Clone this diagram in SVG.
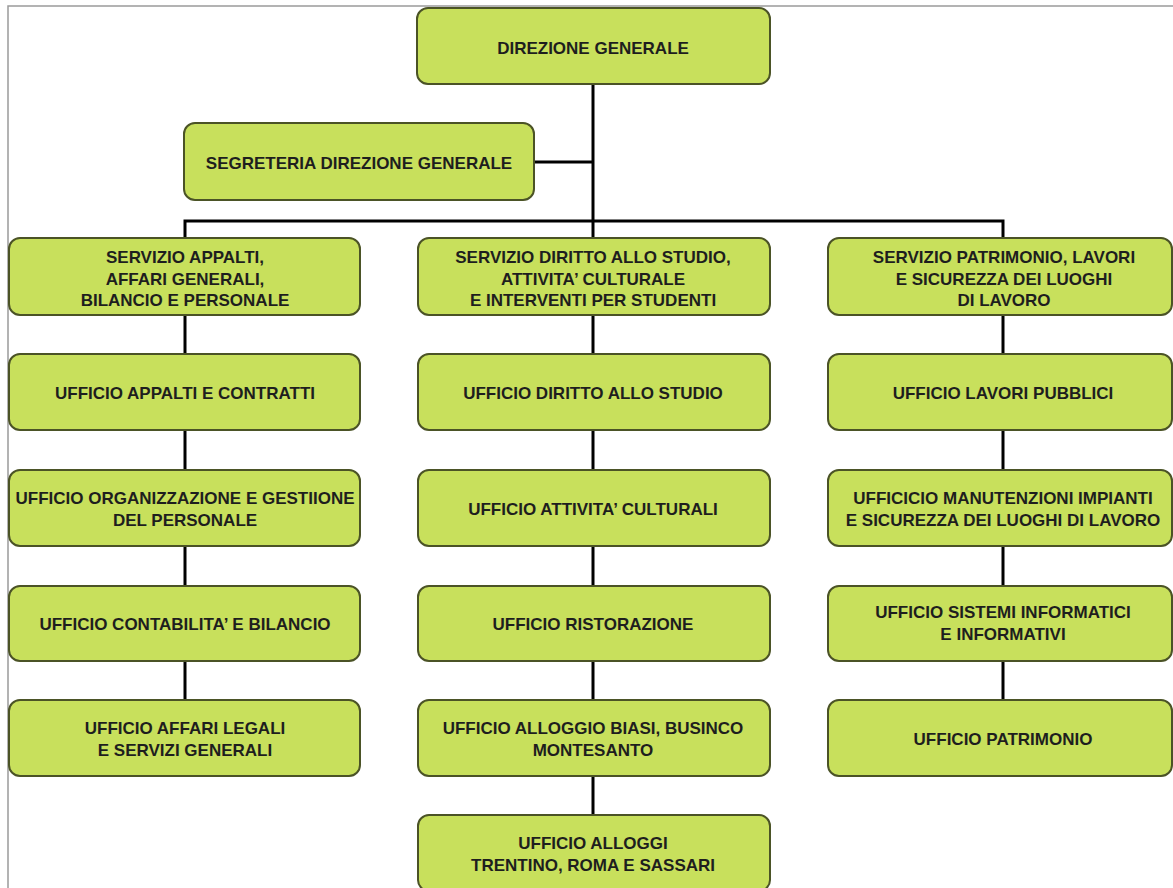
<svg xmlns="http://www.w3.org/2000/svg" width="1173" height="888" viewBox="0 0 1173 888">
<style>
.box{fill:#c8e05c;stroke:#4b5326;stroke-width:2}
.t{font-family:"Liberation Sans",Arial,sans-serif;font-weight:bold;font-size:17px;fill:#1e1e1e;text-anchor:middle}
.c{stroke:#000;stroke-width:3;fill:none}
</style>
<rect x="0" y="0" width="1173" height="888" fill="#fff"/>
<rect x="8" y="6" width="1180" height="900" fill="none" stroke="#9a9a9a" stroke-width="1.5"/>
<g id="connectors">
<path class="c" d="M593 84V238"/>
<path class="c" d="M534 162H593"/>
<path class="c" d="M185 238V221H1003V238"/>
<path class="c" d="M185 315V354M185 430V470M185 546V586M185 661V700"/>
<path class="c" d="M593 315V354M593 430V470M593 546V586M593 661V700M593 776V815"/>
<path class="c" d="M1003 315V354M1003 430V470M1003 546V586M1003 661V700"/>
</g>
<g id="n_direzione"><rect class="box" x="417" y="8" width="353" height="76" rx="11"/><text class="t" x="593" y="54">DIREZIONE GENERALE</text></g>
<g id="n_segreteria"><rect class="box" x="184" y="123" width="350" height="77" rx="11"/><text class="t" x="359" y="169">SEGRETERIA DIREZIONE GENERALE</text></g>

<g id="n_serv_appalti"><rect class="box" x="9" y="238" width="351" height="77" rx="11"/><text class="t" x="185" y="263">SERVIZIO APPALTI,</text><text class="t" x="185" y="284.5">AFFARI GENERALI,</text><text class="t" x="185" y="306">BILANCIO E PERSONALE</text></g>
<g id="n_uff_appalti"><rect class="box" x="9" y="354" width="351" height="76" rx="11"/><text class="t" x="185" y="399">UFFICIO APPALTI E CONTRATTI</text></g>
<g id="n_uff_organizzazione"><rect class="box" x="9" y="470" width="351" height="76" rx="11"/><text class="t" x="185" y="504">UFFICIO ORGANIZZAZIONE E GESTIIONE</text><text class="t" x="185" y="526">DEL PERSONALE</text></g>
<g id="n_uff_contabilita"><rect class="box" x="9" y="586" width="351" height="75" rx="11"/><text class="t" x="185" y="630">UFFICIO CONTABILITA’ E BILANCIO</text></g>
<g id="n_uff_affari"><rect class="box" x="9" y="700" width="351" height="76" rx="11"/><text class="t" x="185" y="734">UFFICIO AFFARI LEGALI</text><text class="t" x="185" y="756">E SERVIZI GENERALI</text></g>

<g id="n_serv_diritto"><rect class="box" x="418" y="238" width="352" height="77" rx="11"/><text class="t" x="593" y="263">SERVIZIO DIRITTO ALLO STUDIO,</text><text class="t" x="593" y="284.5">ATTIVITA’ CULTURALE</text><text class="t" x="593" y="306">E INTERVENTI PER STUDENTI</text></g>
<g id="n_uff_diritto"><rect class="box" x="418" y="354" width="352" height="76" rx="11"/><text class="t" x="593" y="399">UFFICIO DIRITTO ALLO STUDIO</text></g>
<g id="n_uff_attivita"><rect class="box" x="418" y="470" width="352" height="76" rx="11"/><text class="t" x="593" y="515">UFFICIO ATTIVITA’ CULTURALI</text></g>
<g id="n_uff_ristorazione"><rect class="box" x="418" y="586" width="352" height="75" rx="11"/><text class="t" x="593" y="630">UFFICIO RISTORAZIONE</text></g>
<g id="n_uff_alloggio_biasi"><rect class="box" x="418" y="700" width="352" height="76" rx="11"/><text class="t" x="593" y="734">UFFICIO ALLOGGIO BIASI, BUSINCO</text><text class="t" x="593" y="756">MONTESANTO</text></g>
<g id="n_uff_alloggi"><rect class="box" x="418" y="815" width="352" height="76" rx="11"/><text class="t" x="593" y="849">UFFICIO ALLOGGI</text><text class="t" x="593" y="871">TRENTINO, ROMA E SASSARI</text></g>

<g id="n_serv_patrimonio"><rect class="box" x="828" y="238" width="344" height="77" rx="11"/><text class="t" x="1004" y="263">SERVIZIO PATRIMONIO, LAVORI</text><text class="t" x="1004" y="284.5">E SICUREZZA DEI LUOGHI</text><text class="t" x="1004" y="306">DI LAVORO</text></g>
<g id="n_uff_lavori"><rect class="box" x="828" y="354" width="344" height="76" rx="11"/><text class="t" x="1003" y="399">UFFICIO LAVORI PUBBLICI</text></g>
<g id="n_uff_manutenzioni"><rect class="box" x="828" y="470" width="344" height="76" rx="11"/><text class="t" x="1003" y="504">UFFICICIO MANUTENZIONI IMPIANTI</text><text class="t" x="1003" y="526">E SICUREZZA DEI LUOGHI DI LAVORO</text></g>
<g id="n_uff_sistemi"><rect class="box" x="828" y="586" width="344" height="75" rx="11"/><text class="t" x="1003" y="618">UFFICIO SISTEMI INFORMATICI</text><text class="t" x="1003" y="640">E INFORMATIVI</text></g>
<g id="n_uff_patrimonio"><rect class="box" x="828" y="700" width="344" height="76" rx="11"/><text class="t" x="1003" y="745">UFFICIO PATRIMONIO</text></g>
</svg>
